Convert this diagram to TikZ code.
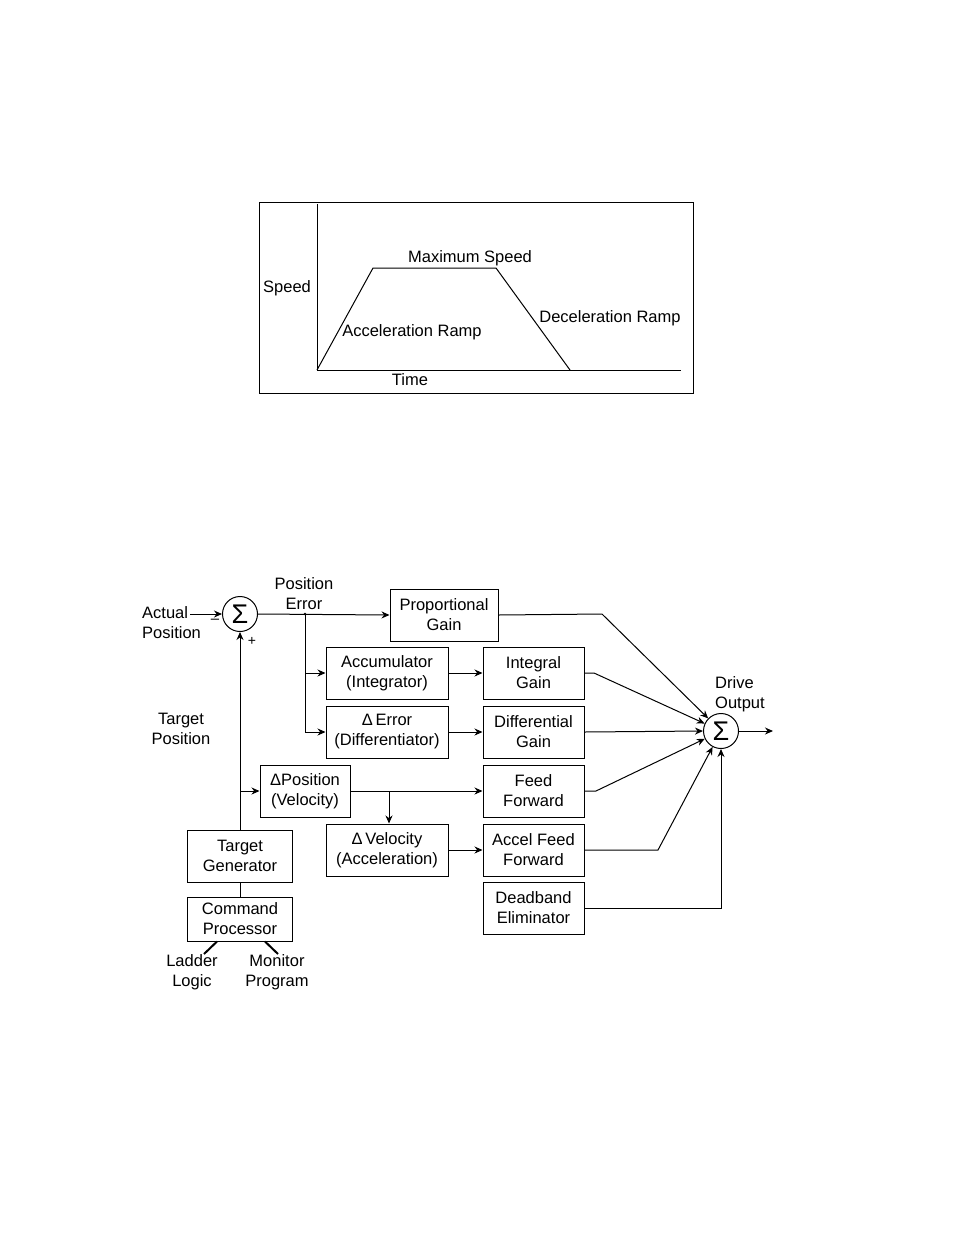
\documentclass[tikz,border=0pt]{standalone}
\usepackage{fontspec}
\setmainfont{Liberation Sans}
\usetikzlibrary{arrows.meta}
\begin{document}
\begin{tikzpicture}[x=1pt,y=-1pt,
  every node/.style={font=\fontsize{16.5}{20}\selectfont, align=center, inner sep=0pt},
  blk/.style={draw, line width=1pt, minimum height=52pt},
  sumc/.style={draw, circle, line width=1pt, minimum size=35pt, font=\fontsize{27}{27}\selectfont},
  ln/.style={line width=1pt},
  arr/.style={line width=1pt, -{Stealth[length=8pt,width=7pt]}}]
\useasboundingbox (0,0) rectangle (954,1235);
% ---------- speed profile ----------
\draw[ln] (259,202) rectangle (693,393);
\coordinate (o) at (317,370);
\coordinate (ytop) at (317,204);
\coordinate (xend) at (681,370);
\coordinate (p1) at (373,268);
\coordinate (p2) at (496,268);
\coordinate (p3) at (570,370);
\draw[ln] (ytop) -- (o) -- (xend);
\draw[ln] (o) -- (p1) -- (p2) -- (p3);
\node (speed) at (287,288) {Speed};
\node (maxs) at (470,258) {Maximum Speed};
\node (acc) at (412,332) {Acceleration Ramp};
\node (dec) at (610,318) {Deceleration Ramp};
\node (time) at (410,380) {Time};
% ---------- block diagram ----------
\node[sumc] (s1) at (240,614) {Σ};
\node[align=left, anchor=west] (actual) at (142,623) {Actual\\Position};
\coordinate (actin) at (190,614);
\node (minus) at (215,621) {\fontsize{15}{15}\selectfont –};
\node (plus) at (252,641) {\fontsize{14}{14}\selectfont +};
\node (perr) at (304,594) {Position\\Error};
\node (tpos) at (181,729) {Target\\Position};

\node[blk, minimum width=108pt] (pg) at (444,615) {Proportional\\Gain};
\node[blk, minimum width=122pt] (accb) at (387,673) {Accumulator\\(Integrator)};
\node[blk, minimum width=122pt] (derr) at (387,732) {Δ\,Error\\(Differentiator)};
\node[blk, minimum width=101pt] (ig) at (533.5,673) {Integral\\Gain};
\node[blk, minimum width=101pt] (dg) at (533.5,732) {Differential\\Gain};
\node[blk, minimum width=90pt] (dpos) at (305,791) {ΔPosition\\(Velocity)};
\node[blk, minimum width=101pt] (ff) at (533.5,791) {Feed\\Forward};
\node[blk, minimum width=122pt] (dvel) at (387,850) {Δ\,Velocity\\(Acceleration)};
\node[blk, minimum width=101pt] (afg) at (533.5,850) {Accel Feed\\Forward};
\node[blk, minimum width=101pt] (db) at (533.5,908) {Deadband\\Eliminator};
\node[blk, minimum width=105pt] (tg) at (240,856) {Target\\Generator};
\node[blk, minimum width=105pt, minimum height=44pt] (cp) at (240,919) {Command\\Processor};
\node (ladder) at (192,972) {Ladder\\Logic};
\node (monitor) at (277,972) {Monitor\\Program};
\node[sumc] (s2) at (721,731) {Σ};
\node[align=left, anchor=west] (drive) at (715,694) {Drive\\Output};
\coordinate (out) at (773,731);

% connectors
\draw[arr] (actin) -- (s1.west);
\coordinate (j) at (305,614);
\draw[arr] (s1.east) -- (pg.west);
\fill (j) circle (1.4pt);
\draw[arr] (j) |- (accb.west);
\draw[arr] (j) |- (derr.west);
\draw[arr] (tg.north) -- (s1.south);
\coordinate (tb) at (tg.north |- dpos.west);
\draw[arr] (tb) -- (dpos.west);
\draw[arr] (dpos.east) -- (ff.west);
\coordinate (vb) at (389,791);
\draw[arr] (vb) -- (vb |- dvel.north);
\draw[arr] (accb.east) -- (ig.west);
\draw[arr] (derr.east) -- (dg.west);
\draw[arr] (dvel.east) -- (afg.west);
\draw[ln] (tg.south) -- (cp.north);
\coordinate (ll) at (204,954);
\coordinate (mp) at (278,954);
\draw[line width=2pt] (cp.south -| 217,0) -- (ll);
\draw[line width=2pt] (cp.south -| 265,0) -- (mp);

\coordinate (pgk) at (602,614);
\coordinate (igk) at (594,673);
\coordinate (ffk) at (596,791);
\coordinate (afk) at (658,850);
\draw[arr] (pg.east) -- (pgk) -- (s2);
\draw[arr] (ig.east) -- (igk) -- (s2);
\draw[arr] (dg.east) -- (s2.west);
\draw[arr] (ff.east) -- (ffk) -- (s2);
\draw[arr] (afg.east) -- (afk) -- (s2);
\draw[arr] (db.east) -| (s2.south);
\draw[arr] (s2.east) -- (out);
\end{tikzpicture}
\end{document}
